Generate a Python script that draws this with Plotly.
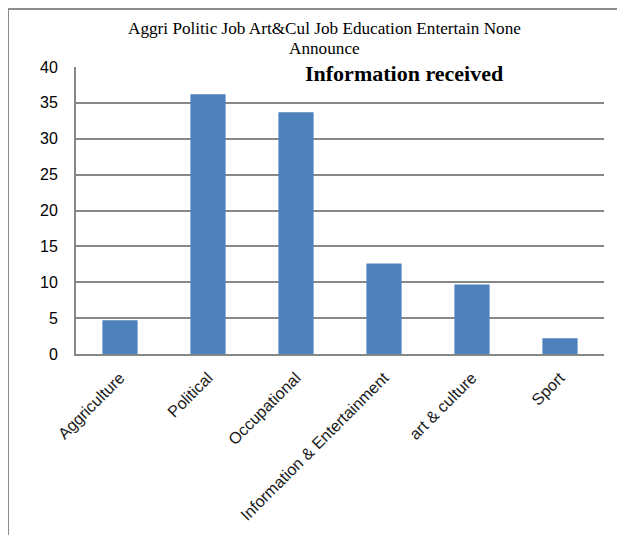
import plotly.graph_objects as go

categories = ["Aggriculture", "Political", "Occupational",
              "Information & Entertainment", "art & culture", "Sport"]
values = [4.7, 36.2, 33.7, 12.6, 9.7, 2.2]
y_ticks = [0, 5, 10, 15, 20, 25, 30, 35, 40]

OFF = 8  # page offset of the figure
W, H = 625 - OFF, 535 - OFF
L, T = 76 - OFF, 67 - OFF
pw, ph = 528, 287
R, B = W - L - pw, H - T - ph

def px(x):
    return (x - OFF - L) / pw

def py(y):
    return (H - B - (y - OFF)) / ph

grid = "#878787"

fig = go.Figure(go.Bar(x=categories, y=values, marker=dict(color="#4F81BD", line=dict(width=0)),
                       width=0.4))

fig.update_layout(
    width=W, height=H,
    margin=dict(l=L, r=R, t=T, b=B),
    paper_bgcolor="white", plot_bgcolor="white",
    showlegend=False,
    font=dict(family="Liberation Sans", color="black"),
)
fig.update_yaxes(range=[0, 40], tickvals=y_ticks, showgrid=True, gridcolor=grid, gridwidth=2,
                 showline=True, linecolor=grid, linewidth=2, zeroline=False,
                 tickfont=dict(size=16, family="Liberation Sans", color="black"), ticks="",
                 ticklabelstandoff=13)
fig.update_xaxes(showline=True, linecolor=grid, linewidth=2, tickangle=-45,
                 tickfont=dict(size=16.2, family="Liberation Sans", color="#1a1a1a"), ticks="",
                 ticklabelstandoff=6, range=[-0.5, 5.5])

shapes = [
    # white box under the title
    dict(type="rect", xref="paper", yref="paper", x0=px(108), x1=px(560), y0=py(88), y1=py(55),
         fillcolor="white", line=dict(width=0), layer="above"),
    # outer frame lines
    dict(type="line", xref="paper", yref="paper", x0=px(8), x1=px(625), y0=py(9), y1=py(9),
         line=dict(color="#8c8c8c", width=2)),
    dict(type="line", xref="paper", yref="paper", x0=px(8), x1=px(8), y0=py(9), y1=py(535),
         line=dict(color="#8c8c8c", width=2)),
]
fig.update_layout(shapes=shapes)

fig.add_annotation(xref="paper", yref="paper", x=px(324), y=py(29), showarrow=False,
                   text="Aggri Politic Job Art&Cul Job Education Entertain None",
                   font=dict(family="Liberation Serif", size=17.2, color="black"),
                   xanchor="center", yanchor="middle")
fig.add_annotation(xref="paper", yref="paper", x=px(324), y=py(48), showarrow=False,
                   text="Announce",
                   font=dict(family="Liberation Serif", size=17.2, color="black"),
                   xanchor="center", yanchor="middle")
fig.add_annotation(xref="paper", yref="paper", x=px(404), y=py(73), showarrow=False,
                   text="<b>Information received</b>",
                   font=dict(family="Liberation Serif", size=22, color="black"),
                   xanchor="center", yanchor="middle")

fig.write_html("out.html")
